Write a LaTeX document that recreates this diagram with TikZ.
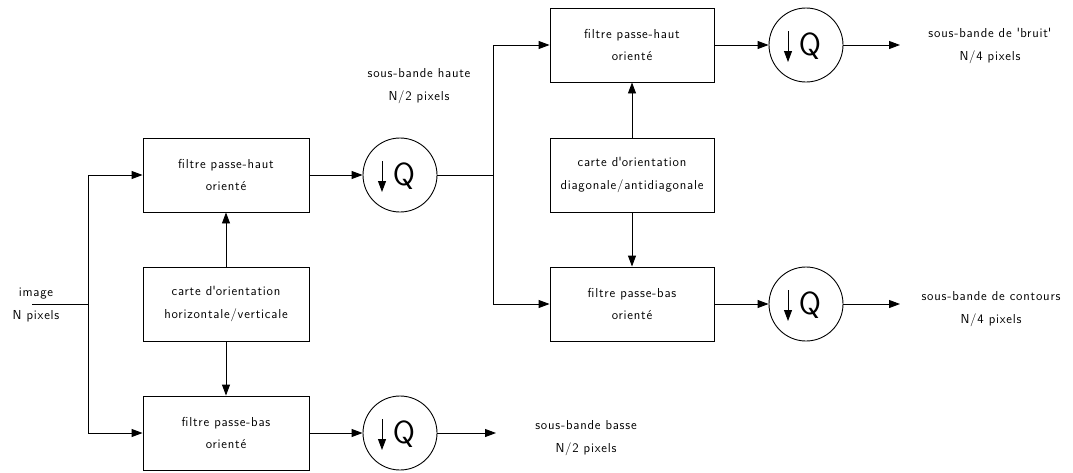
\documentclass[tikz,border=0pt]{standalone}
\usepackage{fontspec}
\newfontfamily\diagsans[LetterSpace=6]{Latin Modern Sans}
\newfontfamily\qsans{Latin Modern Sans}
\usetikzlibrary{arrows.meta}
\begin{document}
\begin{tikzpicture}[x=1pt,y=-1pt,
  line width=0.9pt,
  txt/.style={font=\diagsans\fontsize{13}{22.5}\selectfont, align=center, inner sep=0pt},
  blk/.style={txt, draw, minimum height=74pt, inner sep=0pt},
  lblk/.style={blk, minimum width=166pt},
  rblk/.style={blk, minimum width=164pt},
  quant/.style={draw, circle, minimum size=74pt, inner sep=0pt},
  tip/.style={-{Triangle[length=11pt,width=8pt]}}
]
\useasboundingbox (0,0) rectangle (1073,472);
% left stage
\node[lblk] (hp1) at (226,175) {filtre passe-haut\\orienté};
\node[lblk] (or1) at (226,304) {carte d\textquotesingle orientation\\horizontale/verticale};
\node[lblk] (lp1) at (226,433) {filtre passe-bas\\orienté};
\node[quant] (q1) at (400,175) {};
\node[quant] (q2) at (400,433) {};
% right stage
\node[rblk] (hp2) at (632,45) {filtre passe-haut\\orienté};
\node[rblk] (or2) at (632,175) {carte d\textquotesingle orientation\\diagonale/antidiagonale};
\node[rblk] (lp2) at (632,304) {filtre passe-bas\\orienté};
\node[quant] (q3) at (806,45) {};
\node[quant] (q4) at (806,304) {};
% Q symbols
\foreach \q in {q1,q2,q3,q4}{
  \draw[tip] ([shift={(-18,-14)}]\q.center) -- ++(0,31);
  \node[font=\qsans\fontsize{32}{32}\selectfont, inner sep=0pt] at ([shift={(4,1)}]\q.center) {Q};
}
% labels
\node[txt] (limg) at (36,305) {image\\N pixels};
\node[txt] (lhaute) at (419,86) {sous-bande haute\\N/2 pixels};
\node[txt] (lbasse) at (586,438) {sous-bande basse\\N/2 pixels};
\node[txt] (lbruit) at (990,46) {sous-bande de \textquotesingle bruit\textquotesingle\\N/4 pixels};
\node[txt] (lcont) at (991,309) {sous-bande de contours\\N/4 pixels};
% coordinates
\coordinate (in) at (32,304);
\coordinate (sp1) at (88,304);
\coordinate (sp2) at (493,175);
\coordinate (o2) at (496,433);
\coordinate (o3) at (900,45);
\coordinate (o4) at (900,304);
% connectors
\draw (in) -- (sp1);
\draw[tip] (sp1) |- (hp1.west);
\draw[tip] (sp1) |- (lp1.west);
\draw[tip] (or1) -- (hp1);
\draw[tip] (or1) -- (lp1);
\draw[tip] (hp1) -- (q1);
\draw[tip] (lp1) -- (q2);
\draw[tip] (q2) -- (o2);
\draw (q1) -- (sp2);
\draw[tip] (sp2) |- (hp2.west);
\draw[tip] (sp2) |- (lp2.west);
\draw[tip] (or2) -- (hp2);
\draw[tip] (or2) -- (lp2);
\draw[tip] (hp2) -- (q3);
\draw[tip] (lp2) -- (q4);
\draw[tip] (q3) -- (o3);
\draw[tip] (q4) -- (o4);
\end{tikzpicture}
\end{document}
